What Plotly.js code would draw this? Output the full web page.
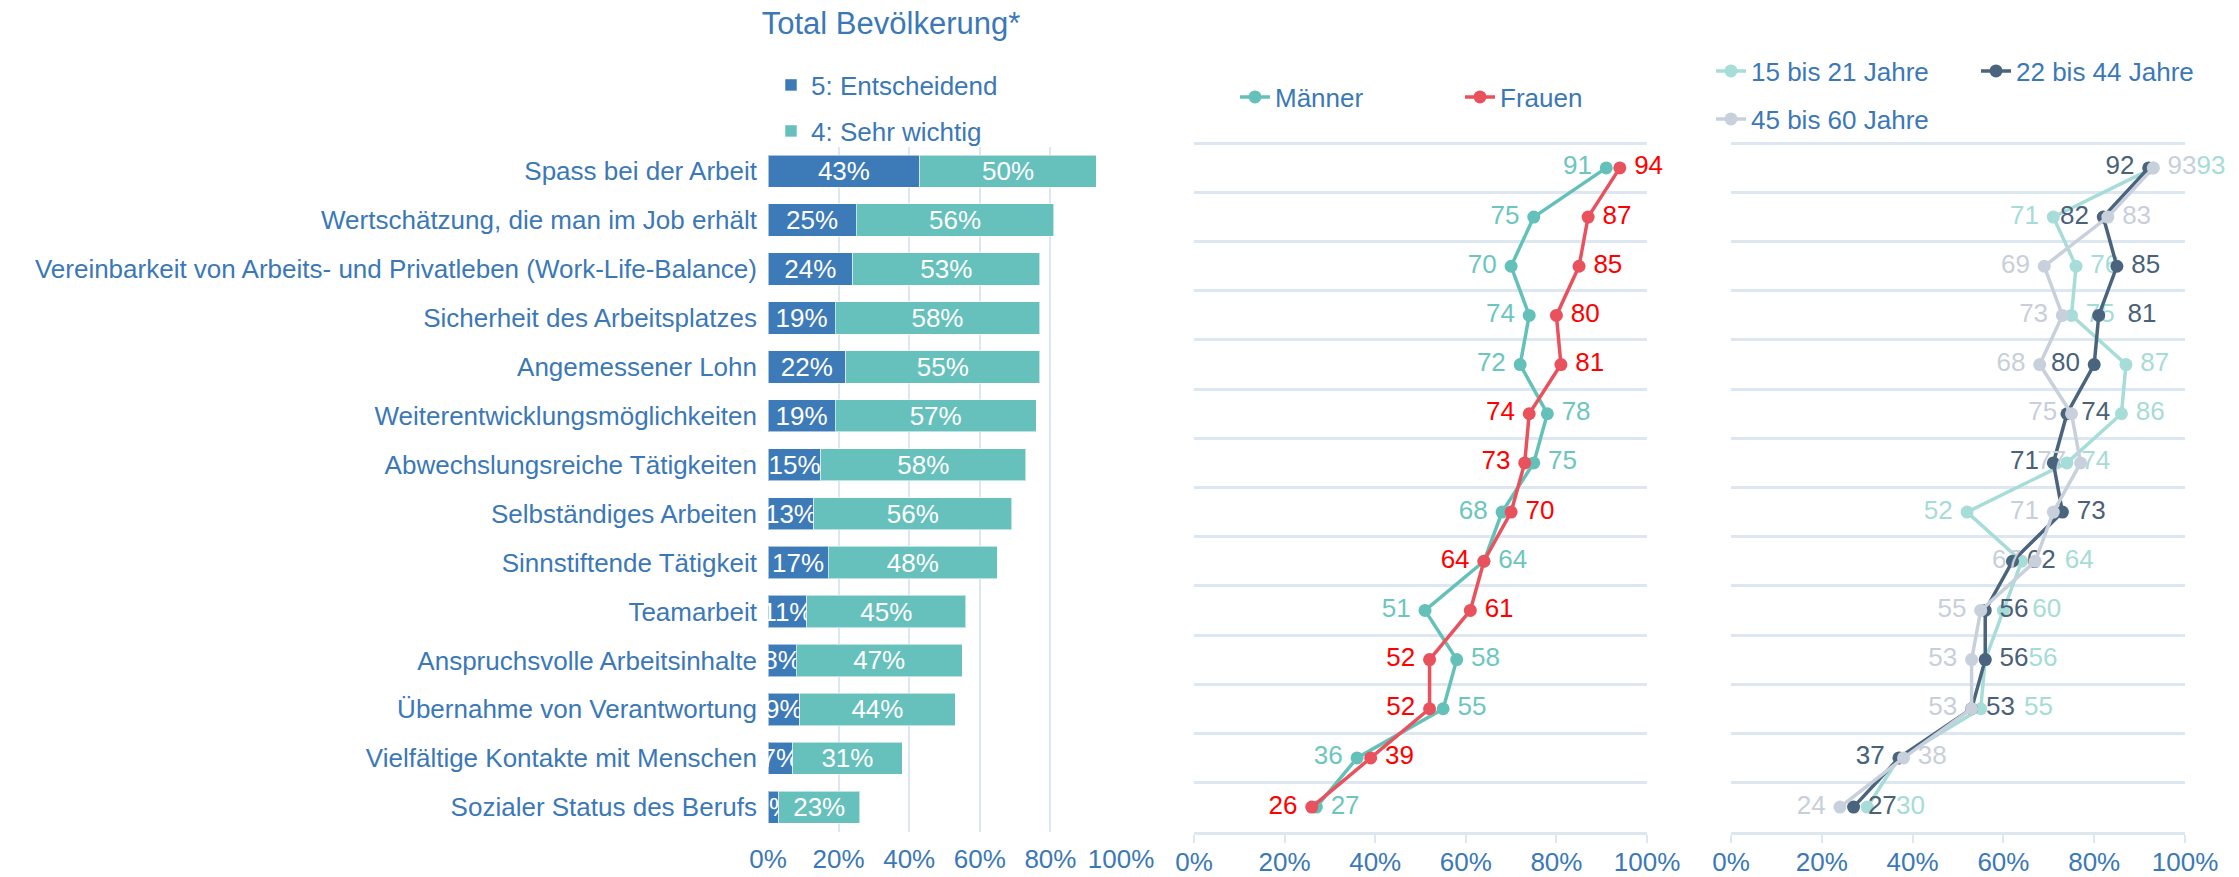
<!DOCTYPE html>
<html><head><meta charset="utf-8">
<script src="https://cdn.plot.ly/plotly-3.0.1.min.js"></script>
<style>html,body{margin:0;padding:0;background:#fff;} #chart{width:2239px;height:877px;}</style>
</head><body><div id="chart"></div>
<script>
// ---------- DATA ----------
const categories = [
  "Spass bei der Arbeit",
  "Wertschätzung, die man im Job erhält",
  "Vereinbarkeit von Arbeits- und Privatleben (Work-Life-Balance)",
  "Sicherheit des Arbeitsplatzes",
  "Angemessener Lohn",
  "Weiterentwicklungsmöglichkeiten",
  "Abwechslungsreiche Tätigkeiten",
  "Selbständiges Arbeiten",
  "Sinnstiftende Tätigkeit",
  "Teamarbeit",
  "Anspruchsvolle Arbeitsinhalte",
  "Übernahme von Verantwortung",
  "Vielfältige Kontakte mit Menschen",
  "Sozialer Status des Berufs"
];
const entscheidend = [43, 25, 24, 19, 22, 19, 15, 13, 17, 11, 8, 9, 7, 3];
const sehrWichtig  = [50, 56, 53, 58, 55, 57, 58, 56, 48, 45, 47, 44, 31, 23];
const maenner = [91, 75, 70, 74, 72, 78, 75, 68, 64, 51, 58, 55, 36, 27];
const frauen  = [94, 87, 85, 80, 81, 74, 73, 70, 64, 61, 52, 52, 39, 26];
const age15_21 = [93, 71, 76, 75, 87, 86, 74, 52, 64, 60, 56, 55, 37, 30];
const age22_44 = [92, 82, 85, 81, 80, 74, 71, 73, 62, 56, 56, 53, 37, 27];
const age45_60 = [93, 83, 69, 73, 68, 75, 77, 71, 67, 55, 53, 53, 38, 24];
const tickVals = [0, 20, 40, 60, 80, 100];
const tickText = tickVals.map(v => v + "%");
const titleText = "Total Bevölkerung*";
const seriesNames = {
  s5: "5: Entscheidend", s4: "4: Sehr wichtig",
  m: "Männer", f: "Frauen",
  a1: "15 bis 21 Jahre", a2: "22 bis 44 Jahre", a3: "45 bis 60 Jahre"
};

// ---------- STYLE ----------
const W = 2239, H = 877;
const BLUE = "#3b78b8";
const GRID = "#dde7f2";
const FONT = "Liberation Sans, Arial, sans-serif";
const FS = 26;
const L = "middle left", R = "middle right";
// label sides for the age chart (as placed in the original)
const side15_21 = [R, L, R, R, R, R, R, L, R, R, R, R, L, R];
const side22_44 = [L, L, R, R, L, R, L, R, R, R, R, R, L, R];
const side45_60 = [R, R, L, L, L, L, L, L, L, L, L, L, R, L];
const sideM = maenner.map((v, i) => v >= frauen[i] ? R : L);
const sideF = frauen.map((v, i) => v > maenner[i] ? R : L);
const GAP = "\u2009";
const FIG = "\u2007";

const px = v => v / W;
const py = v => 1 - v / H;

// simple collision avoidance between right-side labels of the age chart:
// the label of the point further right is pushed past its neighbour, as in the original
const PXU = (2185 - 1731) / 100;  // pixels per percentage point on the age axis
const LABW = 33;                 // approximate width of a 2-digit label plus spacing
const FIGW = 0.556 * FS;
const padTeal = age15_21.map(() => 0);
const padDark = age22_44.map(() => 0);
const padGray = age45_60.map(() => 0);
[[age22_44, side22_44, padDark], [age45_60, side45_60, padGray]].forEach(([vals, sides, pad]) => {
  age15_21.forEach((t, i) => {
    if (side15_21[i] !== R || sides[i] !== R) return;
    const d = (vals[i] - t) * PXU;
    if (Math.abs(d) >= LABW) return;
    if (d <= 0) padTeal[i] = Math.max(padTeal[i], Math.round((d + LABW) / FIGW));
    else pad[i] = Math.max(pad[i], Math.ceil((LABW - d) / FIGW));
  });
});

function lineTrace(name, vals, color, textColor, sides, xa, ya, legend, pads) {
  return {
    type: "scatter", mode: "lines+markers+text", name: name,
    x: vals, y: categories, xaxis: xa, yaxis: ya,
    line: {color: color, width: 3.5},
    marker: {color: color, size: 13},
    text: vals.map((v, i) => sides[i] === L ? v + GAP : GAP + FIG.repeat(pads ? pads[i] : 0) + v),
    textposition: sides,
    textfont: {color: textColor, size: FS, family: FONT},
    cliponaxis: false, legend: legend, hoverinfo: "x+name"
  };
}

const traces = [
  {type: "bar", orientation: "h", name: seriesNames.s5, y: categories, x: entscheidend,
   xaxis: "x", yaxis: "y", legend: "legend",
   marker: {color: "#3d7ab8", line: {color: "rgba(255,255,255,0.55)", width: 1}},
   text: entscheidend.map(v => v + "%"), textposition: "inside", insidetextanchor: "middle",
   textangle: 0, textfont: {color: "#ffffff", size: FS, family: FONT}},
  {type: "bar", orientation: "h", name: seriesNames.s4, y: categories, x: sehrWichtig,
   xaxis: "x", yaxis: "y", legend: "legend2",
   marker: {color: "#66c1bc", line: {color: "rgba(255,255,255,0.55)", width: 1}},
   text: sehrWichtig.map(v => v + "%"), textposition: "inside", insidetextanchor: "middle",
   textangle: 0, textfont: {color: "#ffffff", size: FS, family: FONT}},
  lineTrace(seriesNames.m, maenner, "#64c1ba", "#6cc6bf", sideM, "x2", "y2", "legend3"),
  lineTrace(seriesNames.f, frauen, "#e9525c", "#ff0000", sideF, "x2", "y2", "legend4"),
  lineTrace(seriesNames.a1, age15_21, "#a6ddd8", "#a6dcd6", side15_21, "x3", "y3", "legend5", padTeal),
  lineTrace(seriesNames.a2, age22_44, "#4b647e", "#4a6178", side22_44, "x3", "y3", "legend6", padDark),
  lineTrace(seriesNames.a3, age45_60, "#c8d0dc", "#c8cfda", side45_60, "x3", "y3", "legend7", padGray)
];

const ROW = 49.17;
const EXT = 0.04; // small range extension so the top boundary grid line is drawn
const yCat = {
  type: "category", categoryorder: "array", categoryarray: categories,
  range: [categories.length - 0.5, -0.5], autorange: false, fixedrange: true
};
const yCatExt = Object.assign({}, yCat, {range: [categories.length - 0.5, -0.5 - EXT]});
const xPct = {
  range: [0, 100], autorange: false, tickvals: tickVals, ticktext: tickText,
  tickfont: {size: FS, color: BLUE, family: FONT}, zeroline: false, fixedrange: true
};
function legendAt(textLeft, yc) {
  return {x: px(textLeft - 40), y: py(yc), xanchor: "left", yanchor: "middle",
          bgcolor: "rgba(0,0,0,0)", font: {size: FS, color: BLUE, family: FONT},
          itemclick: false, itemdoubleclick: false};
}

const layout = {
  width: W, height: H, margin: {l: 0, r: 0, t: 0, b: 0},
  paper_bgcolor: "#ffffff", plot_bgcolor: "#ffffff",
  font: {family: FONT, color: BLUE, size: FS},
  title: {text: titleText, font: {size: 31, color: BLUE, family: FONT},
          x: px(891), xanchor: "center", y: py(23), yanchor: "middle"},
  barmode: "stack", bargap: 0.34,
  uniformtext: {mode: "show", minsize: FS},
  showlegend: true,
  xaxis: Object.assign({}, xPct, {domain: [px(768), px(1121)], anchor: "y",
          showgrid: true, gridcolor: GRID, gridwidth: 2, showline: false, ticks: "",
          ticklabelstandoff: 9}),
  yaxis: Object.assign({}, yCat, {domain: [py(831.7), py(146.7)], anchor: "x",
          showgrid: false, ticks: "", showline: false, ticklabelstandoff: 10,
          tickfont: {size: FS, color: BLUE, family: FONT}}),
  xaxis2: Object.assign({}, xPct, {domain: [px(1194), px(1647)], anchor: "y2",
          showgrid: false, showline: true, linecolor: GRID, linewidth: 3,
          ticks: "outside", ticklen: 8, tickwidth: 2, tickcolor: GRID, ticklabelstandoff: -3}),
  yaxis2: Object.assign({}, yCatExt, {domain: [py(831.7), py(143.3 - EXT * ROW)], anchor: "x2",
          tickson: "boundaries", showgrid: true, gridcolor: GRID, gridwidth: 3,
          showticklabels: false, ticks: "", showline: false}),
  xaxis3: Object.assign({}, xPct, {domain: [px(1731), px(2185)], anchor: "y3",
          showgrid: false, showline: true, linecolor: GRID, linewidth: 3,
          ticks: "outside", ticklen: 8, tickwidth: 2, tickcolor: GRID, ticklabelstandoff: -3}),
  yaxis3: Object.assign({}, yCatExt, {domain: [py(831.7), py(143.3 - EXT * ROW)], anchor: "x3",
          tickson: "boundaries", showgrid: true, gridcolor: GRID, gridwidth: 3,
          showticklabels: false, ticks: "", showline: false}),
  legend: legendAt(811, 85),
  legend2: legendAt(811, 131),
  legend3: legendAt(1275, 97),
  legend4: legendAt(1500, 97),
  legend5: legendAt(1751, 71),
  legend6: legendAt(2016, 71),
  legend7: legendAt(1751, 119)
};

Plotly.newPlot("chart", traces, layout, {displayModeBar: false, staticPlot: true});
</script>
</body></html>
